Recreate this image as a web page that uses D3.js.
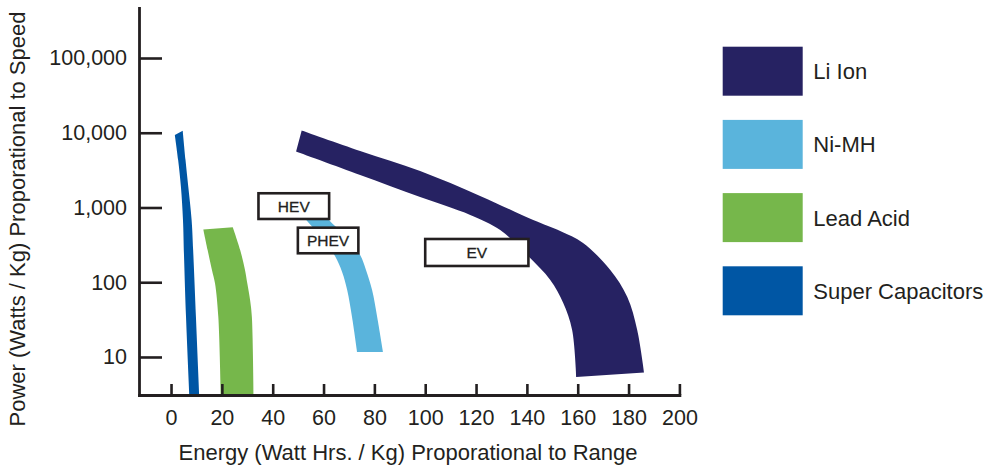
<!DOCTYPE html>
<html>
<head>
<meta charset="utf-8">
<script src="https://cdn.jsdelivr.net/npm/d3@7"></script>
<style>
  html, body { margin: 0; padding: 0; background: #ffffff; }
  svg { display: block; font-family: "Liberation Sans", Arial, Helvetica, sans-serif; }
</style>
</head>
<body>
<svg id="chart" width="986" height="466"></svg>
<script>
// Battery technologies: energy (Wh/kg) vs power (W/kg), log power axis
const categories = ["Li Ion", "Ni-MH", "Lead Acid", "Super Capacitors"];

const xTicks = [0, 20, 40, 60, 80, 100, 120, 140, 160, 180, 200];
const yTicks = [10, 100, 1000, 10000, 100000];

// Each technology is a band: one edge along the high-power side, one along the low-power side
const liIonUpper = [[51.4, 10720], [74.4, 5700], [98.0, 3080], [121.6, 1430], [142.5, 680],
                    [153.1, 485], [162.1, 335], [172.8, 146], [179.5, 63.5], [183.4, 23], [186.1, 6.2]];
const liIonLower = [[49.2, 5600], [74.4, 2720], [98.0, 1380], [117.7, 795], [129.5, 500],
                    [140.5, 224], [149.2, 107], [154.3, 52.7], [157.8, 23], [159.4, 5.4]];

const niMhUpper = [[57.9, 1080], [61.8, 702], [68.5, 416], [74.4, 232], [76.7, 146],
                   [79.1, 78.7], [81.1, 34.3], [83.4, 11.7]];
const niMhLower = [[48.4, 1080], [52.7, 713], [59.4, 391], [64.5, 224], [67.3, 137],
                   [69.3, 78.7], [71.2, 34.3], [73.2, 11.7]];

const leadAcidUpper = [[24.3, 543], [27.2, 270], [29.1, 146], [30.0, 96.8], [31.1, 58],
                       [31.8, 34.6], [32.5, 3.1]];
const leadAcidLower = [[12.7, 508], [14.4, 270], [16.1, 146], [17.3, 96.8], [18.6, 34.6],
                       [19.6, 3.1]];

const superCapUpper = [[4.6, 10640], [5.7, 4320], [6.8, 1880], [8.1, 681], [8.7, 270],
                       [9.8, 34.3], [11.1, 3.1]];
const superCapLower = [[1.5, 9330], [2.8, 4320], [3.9, 1880], [4.7, 681], [5.1, 232],
                       [5.9, 34.3], [7.2, 3.1]];

// Vehicle class ranges: energy from/to, power high/low
const vehicleLabels = ["HEV", "PHEV", "EV"];
const vehicleEnergy = [[34.4, 62.2], [49.9, 73.7], [100.0, 140.6]];
const vehiclePower = [[1550, 702], [537, 244], [379, 165]];

const xTitle = "Energy (Watt Hrs. / Kg) Proporational to Range";
const yTitle = "Power (Watts / Kg) Proporational to Speed";

// ---- styling ----
const palette = ["#262262", "#5ab4dc", "#76b74b", "#0056a4"];
const ink = "#231f20";

const svg = d3.select("#chart");

const x = d3.scaleLinear().domain([-12.6, 200]).range([139, 679.4]);
const y = d3.scaleLog().domain([3.1, 466700]).range([395, 8]);

// ---- bands ----
const edge = d3.line()
  .x(d => x(d[0]))
  .y(d => y(d[1]))
  .curve(d3.curveCatmullRom.alpha(0.5));

function bandPath(upper, lower) {
  const a = edge(upper);
  const b = edge(lower.slice().reverse());
  return a + "L" + b.slice(1) + "Z";
}

const bands = [
  [liIonUpper, liIonLower],
  [niMhUpper, niMhLower],
  [leadAcidUpper, leadAcidLower],
  [superCapUpper, superCapLower]
];

svg.append("g")
  .selectAll("path")
  .data(bands)
  .join("path")
  .attr("d", d => bandPath(d[0], d[1]))
  .attr("fill", (d, i) => palette[i]);

// ---- axes ----
const xAxis = d3.axisBottom(x)
  .tickValues(xTicks)
  .tickSizeInner(-11)
  .tickSizeOuter(0)
  .tickPadding(15)
  .tickFormat(d3.format("d"));

const yAxis = d3.axisLeft(y)
  .tickValues(yTicks)
  .tickSizeInner(-23)
  .tickSizeOuter(0)
  .tickPadding(12)
  .tickFormat(d3.format(","));

const gx = svg.append("g").attr("transform", "translate(0,395)").call(xAxis);
const gy = svg.append("g").attr("transform", "translate(139,0)").call(yAxis);

[gx, gy].forEach(g => {
  g.select(".domain").attr("stroke", ink).attr("stroke-width", 2.8).attr("stroke-linecap", "square");
  g.selectAll(".tick line").attr("stroke", ink).attr("stroke-width", 2.6);
  g.selectAll(".tick text")
    .attr("fill", ink)
    .style("font-size", "21.5px")
    .style("font-family", "'Liberation Sans', Arial, Helvetica, sans-serif");
});

// axis titles
svg.append("text")
  .attr("x", 408)
  .attr("y", 460)
  .attr("text-anchor", "middle")
  .attr("fill", ink)
  .style("font-size", "22px")
  .text(xTitle);

svg.append("text")
  .attr("transform", "translate(25,219) rotate(-90)")
  .attr("text-anchor", "middle")
  .attr("fill", ink)
  .style("font-size", "22px")
  .text(yTitle);

// ---- vehicle class boxes ----
const boxes = svg.append("g")
  .selectAll("g")
  .data(vehicleLabels.map((label, i) => ({ label, e: vehicleEnergy[i], p: vehiclePower[i] })))
  .join("g");

boxes.append("rect")
  .attr("x", d => x(d.e[0]))
  .attr("y", d => y(d.p[0]))
  .attr("width", d => x(d.e[1]) - x(d.e[0]))
  .attr("height", d => y(d.p[1]) - y(d.p[0]))
  .attr("fill", "#ffffff")
  .attr("stroke", ink)
  .attr("stroke-width", 2.6);

boxes.append("text")
  .attr("x", d => (x(d.e[0]) + x(d.e[1])) / 2)
  .attr("y", d => (y(d.p[0]) + y(d.p[1])) / 2)
  .attr("dy", "0.36em")
  .attr("text-anchor", "middle")
  .attr("fill", ink)
  .attr("stroke", ink)
  .attr("stroke-width", 0.3)
  .style("font-size", "15.5px")
  .text(d => d.label);

// ---- legend ----
const legend = svg.append("g")
  .selectAll("g")
  .data(categories)
  .join("g")
  .attr("transform", (d, i) => `translate(722.7,${46.7 + i * 73.2})`);

legend.append("rect")
  .attr("width", 80)
  .attr("height", 49)
  .attr("fill", (d, i) => palette[i]);

legend.append("text")
  .attr("x", 90.6)
  .attr("y", 24.5)
  .attr("dy", "0.36em")
  .attr("fill", ink)
  .style("font-size", "22px")
  .text(d => d);
</script>
</body>
</html>
